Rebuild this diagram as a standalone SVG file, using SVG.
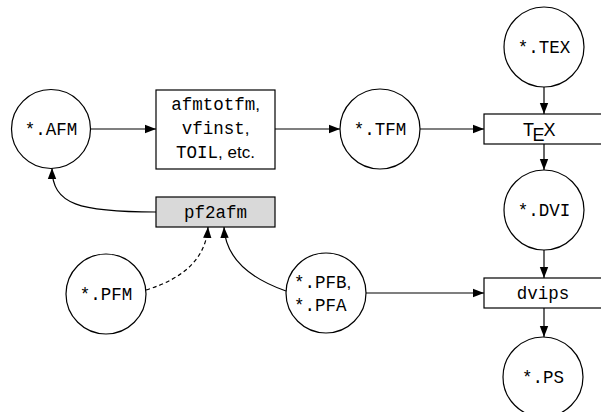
<svg xmlns="http://www.w3.org/2000/svg" width="601" height="412" viewBox="0 0 601 412">
  <style>
    .node { fill: #ffffff; stroke: #000000; stroke-width: 1.2; }
    .proc { fill: #d9d9d9; stroke: #000000; stroke-width: 1.2; }
    .tt { font-family: "Liberation Mono", "DejaVu Sans Mono", monospace; font-size: 17.5px; fill: #000000; }
    .rm { font-family: "Liberation Sans", "DejaVu Sans", sans-serif; font-size: 17px; fill: #000000; }
    .logo { font-family: "Liberation Sans", "DejaVu Sans", sans-serif; font-size: 18px; fill: #000000; }
    .edge { fill: none; stroke: #000000; stroke-width: 1.2; marker-end: url(#arrow); }
    .dashed { stroke-dasharray: 4 3; }
  </style>
  <defs>
    <marker id="arrow" markerUnits="userSpaceOnUse" markerWidth="12" markerHeight="10" viewBox="0 0 12 10" refX="11" refY="5" orient="auto">
      <path d="M0,0.8 L11,5 L0,9.2 Z" fill="#000000"/>
    </marker>
  </defs>
  <rect width="601" height="412" fill="#ffffff"/>

  <!-- connectors -->
  <g id="connectors">
    <path class="edge" d="M91,129 L156,129"/>
    <path class="edge" d="M275,129 L340,129"/>
    <path class="edge" d="M420,129 L484,129"/>
    <path class="edge" d="M544,87 L544,114"/>
    <path class="edge" d="M544,144 L544,170"/>
    <path class="edge" d="M544,250 L544,278"/>
    <path class="edge" d="M544,308 L544,337"/>
    <path class="edge" d="M366,293 L484,293"/>
    <path class="edge" d="M156,212 C80,212 52,205 52,168"/>
    <path class="edge dashed" d="M146,290 Q205,272 208,227"/>
    <path class="edge" d="M286,291 Q226,270 224,227"/>
  </g>

  <!-- files -->
  <g id="afm">
    <circle class="node" cx="51" cy="129" r="39.5"/>
    <text class="tt" x="51" y="135" text-anchor="middle">*.AFM</text>
  </g>
  <g id="tfm">
    <circle class="node" cx="380" cy="129" r="40"/>
    <text class="tt" x="380" y="135" text-anchor="middle">*.TFM</text>
  </g>
  <g id="tex-file">
    <circle class="node" cx="544" cy="47" r="40"/>
    <text class="tt" x="544" y="53" text-anchor="middle">*.TEX</text>
  </g>
  <g id="dvi">
    <circle class="node" cx="544" cy="210" r="40"/>
    <text class="tt" x="544" y="216" text-anchor="middle">*.DVI</text>
  </g>
  <g id="ps">
    <circle class="node" cx="543" cy="377" r="40"/>
    <text class="tt" x="543" y="383" text-anchor="middle">*.PS</text>
  </g>
  <g id="pfm">
    <circle class="node" cx="106" cy="294" r="40"/>
    <text class="tt" x="106" y="300" text-anchor="middle">*.PFM</text>
  </g>
  <g id="pfb">
    <circle class="node" cx="326" cy="293" r="40"/>
    <text class="tt" x="294" y="288">*.PFB<tspan class="rm">,</tspan></text>
    <text class="tt" x="294" y="311">*.PFA</text>
  </g>

  <!-- programs -->
  <g id="tools">
    <rect class="node" x="156" y="90" width="119" height="79"/>
    <text class="tt" x="215.5" y="110" text-anchor="middle">afmtotfm<tspan class="rm">,</tspan></text>
    <text class="tt" x="215.5" y="134" text-anchor="middle">vfinst<tspan class="rm">,</tspan></text>
    <text class="tt" x="215.5" y="158" text-anchor="middle">TOIL<tspan class="rm">, etc.</tspan></text>
  </g>
  <g id="pf2afm">
    <rect class="proc" x="156" y="197" width="119" height="30"/>
    <text class="tt" x="215.5" y="218" text-anchor="middle">pf2afm</text>
  </g>
  <g id="tex">
    <rect class="node" x="484" y="114" width="130" height="30"/>
    <text class="logo" x="523" y="136">T<tspan dx="-1.5" dy="5">E</tspan><tspan dx="-1" dy="-5">X</tspan></text>
  </g>
  <g id="dvips">
    <rect class="node" x="484" y="278" width="130" height="30"/>
    <text class="tt" x="543" y="299" text-anchor="middle">dvips</text>
  </g>
</svg>
